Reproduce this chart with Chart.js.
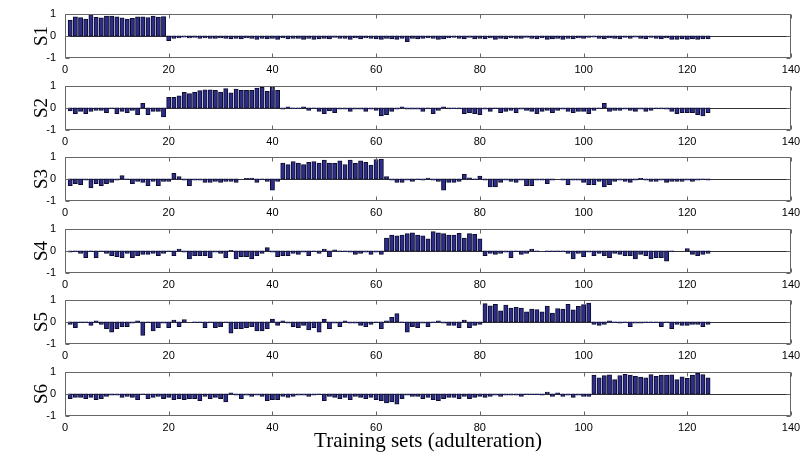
<!DOCTYPE html>
<html>
<head>
<meta charset="utf-8">
<script src="https://cdn.jsdelivr.net/npm/chart.js@4"></script>
<style>
  body { margin: 0; background: #fff; overflow: hidden; }
  #wrap { position: relative; width: 806px; height: 461px; }
  canvas { position: absolute; left: 0; }
</style>
</head>
<body>
<div id="wrap"></div>
<script>
// sample index of each training set (1..124)
const sets = Array.from({ length: 124 }, (_, i) => i + 1)

const panelNames = ['S1', 'S2', 'S3', 'S4', 'S5', 'S6']
const xTitle = 'Training sets (adulteration)'

// bar heights, one array per panel
const s1 = [
  0.72, 0.86, 0.83, 0.76, 0.97, 0.84, 0.82, 0.90, 0.90, 0.86,
  0.82, 0.76, 0.80, 0.86, 0.86, 0.83, 0.90, 0.85, 0.88, -0.20,
  -0.10, -0.08, -0.05, -0.08, -0.06, -0.10, -0.08, -0.10, -0.10, -0.08,
  -0.10, -0.12, -0.10, -0.12, -0.08, -0.10, -0.15, -0.10, -0.12, -0.10,
  -0.15, -0.08, -0.12, -0.10, -0.10, -0.15, -0.10, -0.15, -0.12, -0.10,
  -0.12, -0.06, -0.10, -0.10, -0.15, -0.08, -0.12, -0.08, -0.10, -0.12,
  -0.15, -0.10, -0.12, -0.15, -0.10, -0.25, -0.10, -0.12, -0.10, -0.08,
  -0.10, -0.15, -0.12, -0.08, -0.06, -0.10, -0.12, -0.06, -0.12, -0.10,
  -0.12, -0.08, -0.15, -0.10, -0.12, -0.08, -0.10, -0.10, -0.06, -0.10,
  -0.12, -0.08, -0.15, -0.12, -0.10, -0.15, -0.10, -0.12, -0.08, -0.10,
  -0.06, -0.04, -0.10, -0.12, -0.08, -0.10, -0.12, -0.06, -0.10, -0.04,
  -0.10, -0.12, -0.06, -0.10, -0.12, -0.08, -0.15, -0.15, -0.12, -0.15,
  -0.12, -0.15, -0.12, -0.12
]
const s2 = [
  -0.12, -0.25, -0.15, -0.25, -0.15, -0.10, -0.10, -0.20, -0.02, -0.25,
  -0.15, -0.20, -0.10, -0.30, 0.20, -0.30, -0.15, -0.15, -0.40, 0.48,
  0.48, 0.55, 0.70, 0.65, 0.70, 0.78, 0.82, 0.82, 0.80, 0.72,
  0.88, 0.68, 0.85, 0.80, 0.80, 0.80, 0.90, 0.93, 0.75, 0.95,
  0.80, -0.05, 0.05, -0.02, -0.02, 0.05, -0.10, -0.02, -0.15, -0.25,
  -0.12, -0.20, -0.05, -0.05, -0.15, -0.05, -0.05, -0.15, -0.05, -0.10,
  -0.35, -0.30, -0.15, -0.05, 0.05, -0.05, -0.05, -0.05, -0.15, -0.03,
  -0.25, -0.10, 0.05, -0.03, -0.02, -0.03, -0.25, -0.20, -0.25, -0.30,
  -0.05, -0.15, -0.02, -0.20, -0.15, -0.10, -0.20, -0.05, -0.10, -0.15,
  -0.25, -0.15, -0.10, -0.20, -0.10, -0.05, -0.15, -0.20, -0.15, -0.15,
  -0.25, -0.10, -0.02, 0.20, -0.15, -0.10, -0.10, -0.05, -0.10, -0.15,
  -0.05, -0.15, -0.10, -0.03, -0.03, -0.05, -0.15, -0.25, -0.20, -0.20,
  -0.20, -0.30, -0.35, -0.20
]
const s3 = [
  -0.30, -0.20, -0.25, -0.05, -0.40, -0.20, -0.30, -0.20, -0.15, -0.05,
  0.15, -0.02, -0.20, -0.10, -0.15, -0.30, -0.10, -0.30, -0.10, -0.10,
  0.25, 0.10, -0.05, -0.30, -0.05, -0.05, -0.15, -0.15, -0.10, -0.15,
  -0.10, -0.10, -0.15, 0.00, 0.02, 0.03, -0.15, -0.02, -0.10, -0.50,
  -0.10, 0.72, 0.65, 0.78, 0.72, 0.65, 0.75, 0.78, 0.72, 0.85,
  0.72, 0.70, 0.82, 0.65, 0.85, 0.70, 0.82, 0.75, 0.62, 0.88,
  0.90, 0.10, -0.05, -0.15, -0.15, -0.05, -0.10, -0.02, -0.05, 0.03,
  -0.05, -0.10, -0.50, -0.15, -0.15, -0.10, 0.20, 0.05, -0.02, 0.12,
  -0.05, -0.35, -0.35, -0.15, -0.05, -0.10, -0.15, -0.05, -0.30, -0.30,
  -0.05, -0.05, -0.20, -0.05, 0.00, -0.05, -0.25, -0.05, -0.05, -0.15,
  -0.25, -0.25, -0.10, -0.35, -0.25, -0.10, -0.05, -0.10, -0.15, -0.05,
  0.02, -0.05, -0.10, -0.10, -0.05, -0.15, -0.10, -0.10, -0.10, -0.05,
  -0.10, -0.05, -0.02, -0.05
]
const s4 = [
  -0.05, -0.02, -0.10, -0.30, -0.02, -0.30, -0.02, -0.10, -0.20, -0.25,
  -0.30, -0.10, -0.30, -0.20, -0.15, -0.15, -0.10, -0.20, -0.10, -0.02,
  -0.20, 0.08, -0.05, -0.35, -0.20, -0.20, -0.20, -0.30, -0.05, -0.10,
  -0.30, 0.02, -0.35, -0.25, -0.25, -0.35, -0.20, -0.10, 0.15, -0.05,
  -0.25, -0.20, -0.20, -0.10, -0.15, -0.05, -0.20, -0.02, -0.10, 0.08,
  -0.25, 0.05, -0.02, -0.02, -0.05, -0.15, -0.10, -0.05, -0.15, -0.05,
  -0.15, 0.58, 0.72, 0.68, 0.72, 0.78, 0.82, 0.72, 0.68, 0.55,
  0.88, 0.82, 0.78, 0.72, 0.72, 0.80, 0.58, 0.78, 0.75, 0.55,
  -0.20, -0.10, -0.15, -0.10, -0.05, -0.30, -0.02, -0.15, -0.10, 0.08,
  -0.02, 0.00, -0.02, -0.02, -0.02, -0.02, -0.10, -0.35, -0.10, -0.25,
  -0.05, -0.20, -0.10, -0.20, -0.30, -0.10, -0.15, -0.20, -0.20, -0.35,
  -0.15, -0.20, -0.35, -0.30, -0.30, -0.45, -0.02, 0.00, 0.00, 0.10,
  -0.15, -0.20, -0.15, -0.10
]
const s5 = [
  -0.10, -0.25, -0.02, -0.02, -0.15, 0.05, -0.10, -0.30, -0.45, -0.30,
  -0.20, -0.20, -0.05, 0.05, -0.60, -0.02, -0.40, -0.25, -0.05, -0.25,
  0.08, -0.20, 0.10, 0.00, -0.02, -0.02, -0.25, -0.02, -0.25, -0.20,
  -0.02, -0.50, -0.30, -0.30, -0.25, -0.20, -0.40, -0.40, -0.30, 0.12,
  -0.15, 0.05, -0.05, -0.20, -0.25, -0.15, -0.35, -0.25, -0.45, 0.12,
  -0.30, -0.05, -0.20, 0.05, -0.05, -0.05, -0.15, -0.20, -0.10, -0.02,
  -0.30, 0.05, 0.20, 0.38, -0.02, -0.45, -0.20, -0.25, -0.05, -0.20,
  -0.02, 0.05, -0.05, -0.15, -0.15, -0.25, 0.08, -0.25, -0.15, -0.10,
  0.83, 0.73, 0.80, 0.50, 0.76, 0.62, 0.66, 0.63, 0.45, 0.58,
  0.56, 0.45, 0.72, 0.40, 0.60, 0.58, 0.80, 0.55, 0.70, 0.78,
  0.85, -0.10, -0.15, -0.10, 0.05, -0.02, -0.05, -0.02, -0.20, -0.05,
  -0.05, -0.02, -0.02, -0.02, -0.20, -0.02, -0.30, -0.10, -0.15, -0.15,
  -0.10, -0.10, -0.20, -0.10
]
const s6 = [
  -0.20, -0.15, -0.15, -0.20, -0.15, -0.25, -0.20, -0.10, -0.05, -0.05,
  -0.15, -0.10, -0.15, -0.25, -0.02, -0.20, -0.15, -0.10, -0.20, -0.15,
  -0.25, -0.20, -0.25, -0.20, -0.20, -0.30, -0.10, -0.20, -0.15, -0.20,
  -0.35, 0.05, -0.05, -0.20, -0.05, -0.10, -0.05, -0.10, -0.30, -0.25,
  -0.25, -0.10, -0.15, -0.10, -0.05, -0.05, -0.10, -0.05, -0.02, -0.30,
  -0.10, -0.15, -0.20, -0.15, -0.25, -0.10, -0.15, -0.20, -0.15, -0.25,
  -0.30, -0.40, -0.35, -0.45, -0.20, -0.05, -0.10, -0.10, -0.20, -0.15,
  -0.25, -0.30, -0.20, -0.15, -0.15, -0.20, -0.10, -0.20, -0.15, -0.10,
  -0.15, -0.10, -0.05, -0.10, -0.05, -0.05, -0.05, -0.10, -0.02, -0.02,
  -0.02, -0.05, 0.08, -0.10, 0.05, -0.10, -0.05, -0.15, -0.05, -0.10,
  -0.10, 0.85, 0.73, 0.83, 0.86, 0.65, 0.83, 0.89, 0.85, 0.79,
  0.76, 0.73, 0.88, 0.79, 0.85, 0.85, 0.86, 0.65, 0.77, 0.70,
  0.85, 0.94, 0.88, 0.73
]
const series = [s1, s2, s3, s4, s5, s6]

const sans = '"Liberation Sans", Arial, sans-serif'
const serif = '"Liberation Serif", "Times New Roman", serif'
const barFill = '#2e2e88'
const barEdge = '#0c0c30'
const axisColor = '#666'

// MATLAB style box: frame, inward ticks and the zero baseline
const frame = {
    id: 'frame',
    beforeDatasetsDraw(chart) {
        const { ctx, chartArea: a, scales: { y } } = chart
        const y0 = Math.round(y.getPixelForValue(0)) + 0.5
        ctx.save()
        ctx.strokeStyle = '#333'
        ctx.lineWidth = 1
        ctx.beginPath()
        ctx.moveTo(a.left, y0)
        ctx.lineTo(a.right, y0)
        ctx.stroke()
        ctx.restore()
    },
    afterDatasetsDraw(chart) {
        const { ctx, chartArea: a, scales: { x, y } } = chart
        const L = Math.round(a.left) + 0.5
        const R = Math.round(a.right) - 0.5
        const T = Math.round(a.top) + 0.5
        const B = Math.round(a.bottom) - 0.5
        ctx.save()
        ctx.strokeStyle = axisColor
        ctx.lineWidth = 1
        ctx.beginPath()
        ctx.moveTo(R, T)
        ctx.lineTo(L, T)
        ctx.lineTo(L, B)
        ctx.lineTo(R, B)
        ctx.lineTo(R, T)
        x.ticks.forEach(t => {
            const px = Math.round(x.getPixelForValue(t.value)) + 0.5
            ctx.moveTo(px, T)
            ctx.lineTo(px, T + 4)
            ctx.moveTo(px, B)
            ctx.lineTo(px, B - 4)
        })
        y.ticks.forEach(t => {
            const py = Math.round(y.getPixelForValue(t.value)) + 0.5
            ctx.moveTo(L, py)
            ctx.lineTo(L + 4, py)
            ctx.moveTo(R, py)
            ctx.lineTo(R - 4, py)
        })
        ctx.stroke()
        ctx.restore()
    }
}

const wrap = document.getElementById('wrap')
const canvasTops = [8, 80, 151, 223, 294, 366]

series.forEach((values, i) => {
    const last = i === series.length - 1
    const xHeight = last ? 45 : 22
    const canvas = document.createElement('canvas')
    canvas.width = 806
    canvas.height = 6 + 44 + xHeight
    canvas.style.top = canvasTops[i] + 'px'
    wrap.appendChild(canvas)

    new Chart(canvas, {
        type: 'bar',
        data: {
            datasets: [{
                data: values.map((v, k) => ({ x: sets[k], y: v })),
                backgroundColor: barFill,
                borderColor: barEdge,
                borderWidth: 1,
                borderSkipped: false,
                inflateAmount: 0.5,
                barPercentage: 0.75,
                categoryPercentage: 1
            }]
        },
        options: {
            responsive: false,
            animation: false,
            events: [],
            layout: { padding: { top: 6, right: 15, left: 0, bottom: 0 } },
            plugins: {
                legend: { display: false },
                tooltip: { enabled: false }
            },
            scales: {
                x: {
                    type: 'linear',
                    min: 0,
                    max: 140,
                    offset: false,
                    grid: { display: false, drawTicks: false },
                    border: { display: false },
                    ticks: {
                        stepSize: 20,
                        padding: 5,
                        maxRotation: 0,
                        color: '#000',
                        font: { family: sans, size: 11 }
                    },
                    title: {
                        display: last,
                        text: xTitle,
                        color: '#000',
                        font: { family: serif, size: 21 },
                        padding: { top: 0, bottom: 7 }
                    },
                    afterFit: s => {
                        s.height = xHeight
                        s.paddingLeft = 0
                        s.paddingRight = 0
                    }
                },
                y: {
                    min: -1,
                    max: 1,
                    grid: { display: false, drawTicks: false },
                    border: { display: false },
                    ticks: {
                        stepSize: 1,
                        padding: 9,
                        color: '#000',
                        font: { family: sans, size: 11 }
                    },
                    title: {
                        display: true,
                        text: panelNames[i],
                        color: '#000',
                        font: { family: serif, size: 19 },
                        padding: { top: 31, bottom: 0 }
                    },
                    afterFit: s => {
                        s.width = 65
                        s.paddingTop = 0
                        s.paddingBottom = 0
                    }
                }
            }
        },
        plugins: [frame]
    })
})
</script>
</body>
</html>
